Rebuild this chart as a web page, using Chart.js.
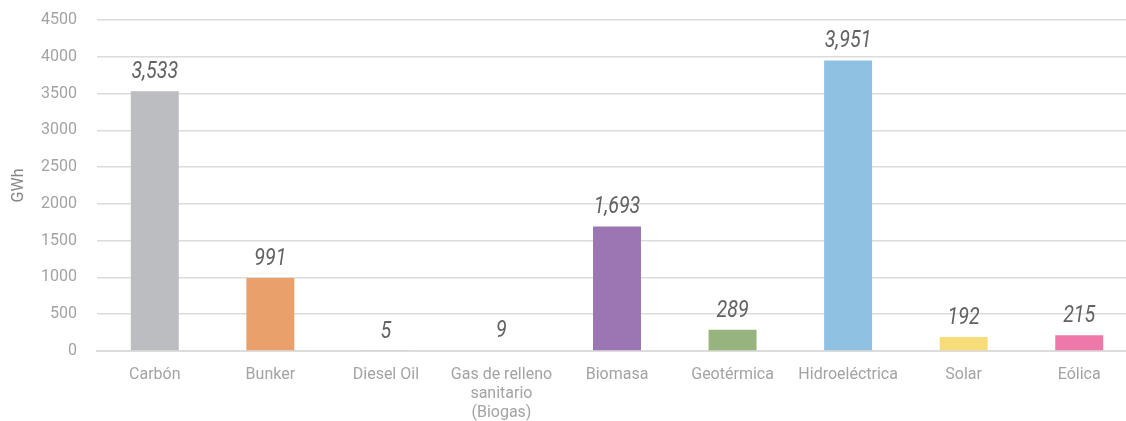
<!DOCTYPE html>
<html>
<head>
<meta charset="utf-8">
<script src="https://cdn.jsdelivr.net/npm/chart.js@4.4.1/dist/chart.umd.min.js"></script>
<style>
  html, body { margin: 0; padding: 0; background: #fff; overflow: hidden; }
  #wrap { width: 1140px; height: 421px; }
</style>
</head>
<body>
<div id="wrap"><canvas id="myChart"></canvas></div>
<script>
"use strict";

const categories = ["Carbón", "Bunker", "Diesel Oil", ["Gas de relleno", "sanitario", "(Biogas)"], "Biomasa", "Geotérmica", "Hidroeléctrica", "Solar", "Eólica"];
const generation = [3533, 991, 5, 9, 1693, 289, 3951, 192, 215];
const barColors = ["#bcbdc0", "#e9a06a", "#d0d0d0", "#e0d4b0", "#9b76b2", "#98b47e", "#8fc1e3", "#f9dc7a", "#ee79a8"];
const yTicks = [0, 500, 1000, 1500, 2000, 2500, 3000, 3500, 4000, 4500];

// draws the value above each bar (narrowed italic like the original)
const valueLabels = {
  id: "valueLabels",
  afterDatasetsDraw(chart) {
    const ctx = chart.ctx;
    const meta = chart.getDatasetMeta(0);
    ctx.save();
    ctx.font = "italic 24px 'Roboto', sans-serif";
    ctx.fillStyle = "#626262";
    ctx.textAlign = "center";
    ctx.textBaseline = "alphabetic";
    meta.data.forEach(function (bar, i) {
      ctx.save();
      ctx.translate(bar.x, bar.y - 13);
      ctx.scale(0.82, 1);
      ctx.fillText(generation[i].toLocaleString("en-US"), 0, 0);
      ctx.restore();
    });
    ctx.restore();
  }
};

function init() {
  const ctx = document.getElementById("myChart").getContext("2d");
  new Chart(ctx, {
    type: "bar",
    data: {
      labels: categories,
      datasets: [{
        data: generation,
        backgroundColor: barColors,
        barPercentage: 0.83,
        categoryPercentage: 0.5
      }]
    },
    options: {
      responsive: true,
      maintainAspectRatio: false,
      animation: false,
      layout: { padding: { top: 20, right: 3, bottom: 0, left: 0 } },
      plugins: {
        legend: { display: false },
        tooltip: { enabled: false }
      },
      scales: {
        x: {
          grid: { display: false, drawTicks: false },
          border: { color: "#dcdcdc", width: 2 },
          ticks: {
            color: "#a3a3a3",
            font: { family: "Roboto", size: 16 },
            padding: 14,
            maxRotation: 0,
            autoSkip: false
          },
          afterFit(scale) { scale.height = 70; }
        },
        y: {
          min: 0,
          max: 4500,
          afterBuildTicks(scale) {
            scale.ticks = yTicks.map(function (v) { return { value: v }; });
          },
          grid: { color: "#dcdcdc", lineWidth: 1.5, drawTicks: true, tickLength: 20, tickColor: "rgba(0,0,0,0)" },
          border: { display: false },
          ticks: {
            color: "#a3a3a3",
            font: { family: "Roboto", size: 16 },
            padding: 0,
            callback: function (v) { return String(v); }
          },
          title: {
            display: true,
            text: "GWh",
            color: "#858585",
            font: { family: "Roboto", size: 16 },
            padding: { top: 9, bottom: 0 }
          },
          afterFit(scale) { scale.width = 97; }
        }
      }
    },
    plugins: [valueLabels]
  });
}

window.addEventListener("DOMContentLoaded", init);
</script>
</body>
</html>
